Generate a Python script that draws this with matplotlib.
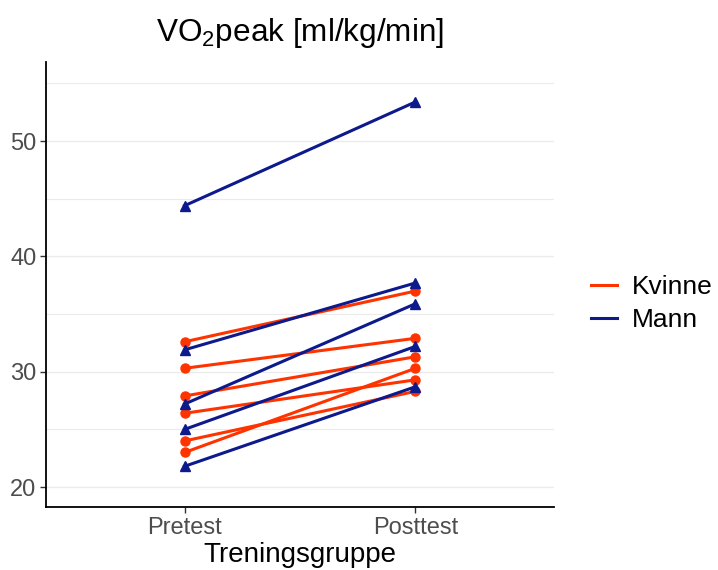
import matplotlib
matplotlib.use("Agg")
import matplotlib.pyplot as plt
from matplotlib.lines import Line2D

plt.rcParams["font.family"] = ["Liberation Sans", "DejaVu Sans"]
plt.rcParams["mathtext.fontset"] = "custom"
plt.rcParams["mathtext.rm"] = "Liberation Sans"

timepoints = ["Pretest", "Posttest"]

# Kvinne (women)
kvinne_pre = [32.6, 30.3, 27.9, 26.4, 24.0, 23.0]
kvinne_post = [37.0, 32.9, 31.3, 29.3, 28.3, 30.3]

# Mann (men)
mann_pre = [44.4, 31.9, 27.2, 25.0, 21.8]
mann_post = [53.4, 37.7, 35.9, 32.2, 28.7]

red = "#FF3300"
blue = "#0D1A8C"

fig = plt.figure(figsize=(7.18, 5.70), dpi=100)
ax = fig.add_axes([0.0641, 0.1105, 0.7075, 0.7807])

xs = [1, 2]
for pre, post in zip(kvinne_pre, kvinne_post):
    ax.plot(xs, [pre, post], color=red, lw=2.2, marker="o", ms=6.5, zorder=3)
for pre, post in zip(mann_pre, mann_post):
    ax.plot(xs, [pre, post], color=blue, lw=2.2, marker="^", ms=7.5, zorder=3)

ax.set_xlim(0.4, 2.6)
ax.set_ylim(18.27, 56.86)
ax.set_xticks(xs)
ax.set_xticklabels(timepoints)
ax.set_yticks([20, 30, 40, 50])
ax.set_yticks([25, 35, 45, 55], minor=True)
ax.grid(axis="y", which="major", color="#EBEBEB", lw=1.0)
ax.grid(axis="y", which="minor", color="#EBEBEB", lw=0.8)
ax.set_axisbelow(True)

for side in ["top", "right"]:
    ax.spines[side].set_visible(False)
for side in ["left", "bottom"]:
    ax.spines[side].set_linewidth(1.3)
    ax.spines[side].set_color("black")

ax.tick_params(axis="both", which="major", length=4, width=1.0, color="#333333",
               labelcolor="#4D4D4D", labelsize=17, pad=3)
ax.tick_params(axis="y", which="minor", length=0)

ax.set_xlabel("Treningsgruppe", fontsize=20, color="black", labelpad=2)
ax.set_title("VO$_\\mathregular{2}$peak [ml/kg/min]", fontsize=22.7, pad=15)

handles = [Line2D([], [], color=red, lw=2.2), Line2D([], [], color=blue, lw=2.2)]
fig.legend(handles, ["Kvinne", "Mann"], loc="center left",
           bbox_to_anchor=(0.79, 0.467), frameon=False, fontsize=19,
           handlelength=1.0, handletextpad=0.55, labelspacing=0.35)

fig.savefig("out.png", dpi=100)
